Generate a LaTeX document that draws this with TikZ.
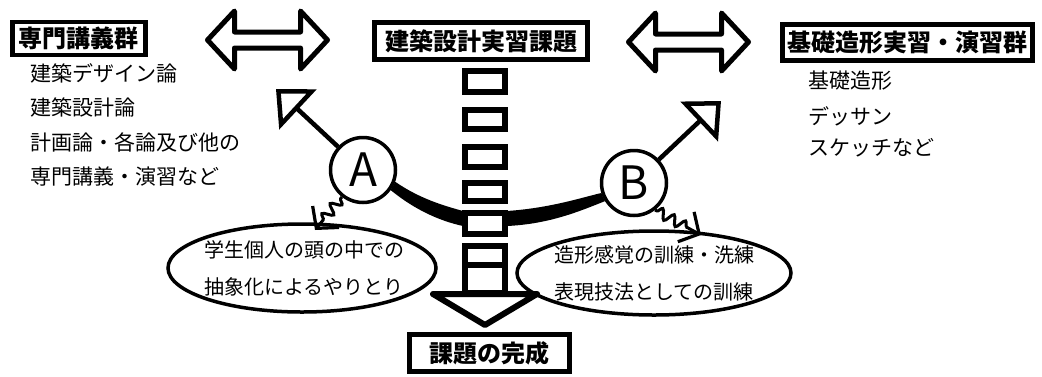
\documentclass[tikz,border=0pt]{standalone}
\usepackage{fontspec}
\setmainfont{Noto Sans CJK JP}
\usetikzlibrary{arrows.meta,shapes.geometric,decorations.pathmorphing}
\tikzset{
  titlebox/.style={draw, line width=4.5pt, inner xsep=2pt, inner ysep=2pt, font=\fontsize{24}{26}\selectfont\bfseries},
  listtext/.style={anchor=west, inner sep=0pt, font=\fontsize{21}{24}\selectfont},
  bubble/.style={draw, ellipse, line width=3.5pt, inner sep=0pt},
  bubbletext/.style={inner sep=0pt, align=center, font=\fontsize{20}{37}\selectfont},
  letter/.style={draw, circle, line width=3.5pt, minimum size=65pt, inner sep=0pt, font=\fontsize{46}{46}\selectfont},
  ladderbox/.style={draw, line width=6pt, fill=white, line join=miter},
  dblarr/.pic={\draw[line width=5pt, line join=round] (-60,0) -- (-33,-29) -- (-33,-8) -- (33,-8) -- (33,-29) -- (60,0) -- (33,29) -- (33,8) -- (-33,8) -- (-33,29) -- cycle;},
  openarrow/.style={line width=4.5pt, -{Triangle[open, length=30pt, width=54pt, line width=4.5pt]}},
  wavy/.style={line width=3pt, decorate, decoration={snake, amplitude=5pt, segment length=13pt, pre length=2pt, post length=10pt}, -{Straight Barb[length=15pt, width=34pt, line width=3.2pt]}},
  taper/.style={fill=black}
}
\begin{document}
\begin{tikzpicture}[x=1pt, y=-1pt]
\useasboundingbox (0,0) rectangle (1042,376);
\fill[white] (0,0) rectangle (1042,376);

% title boxes
\node[titlebox, minimum width=133pt, minimum height=33pt] (b1) at (79,38.5) {専門講義群};
\node[titlebox, minimum width=213pt, minimum height=37pt] (b2) at (481,41) {建築設計実習課題};
\node[titlebox, minimum width=250pt, minimum height=36pt] (b3) at (907.5,42.5) {基礎造形実習・演習群};
\node[titlebox, minimum width=160pt, minimum height=37pt] (b4) at (489.5,353) {課題の完成};

% lists
\node[listtext] (l1) at (30,73) {建築デザイン論};
\node[listtext] (l2) at (30,107) {建築設計論};
\node[listtext] (l3) at (30,142) {計画論・各論及び他の};
\node[listtext] (l4) at (30,177) {専門講義・演習など};
\node[listtext] (r1) at (808,81) {基礎造形};
\node[listtext] (r2) at (808,116) {デッサン};
\node[listtext] (r3) at (808,148) {スケッチなど};

% double arrows
\pic at (267.5,40) {dblarr};
\pic at (688.5,42) {dblarr};

% circles
\node[letter] (A) at (363,170) {A};
\node[letter] (B) at (634,183) {B};

% bubbles
\node[bubble, minimum width=268pt, minimum height=88pt] (e1) at (302,268) {};
\node[bubbletext] (t1) at ([xshift=2pt]e1.center) {学生個人の頭の中での\\抽象化によるやりとり};
\node[bubble, minimum width=274pt, minimum height=84pt] (e2) at (654,273) {};
\node[bubbletext] (t2) at (e2.center) {造形感覚の訓練・洗練\\表現技法としての訓練};

% arrows from circles
\coordinate (at) at (276,89);
\coordinate (bt) at (721,101);
\draw[openarrow] (A) -- (at);
\draw[openarrow] (B) -- (bt);
\coordinate (wa) at (315,230);
\coordinate (wb) at (701,235);
\draw[wavy] (A.232) -- (wa);
\draw[wavy] (B.-52) -- (wb);

% thick tapered line through ladder
\coordinate (ml) at (463,211);
\coordinate (mr) at (507,211);
\fill[taper] (A.-20) .. controls (420,199) and (445,206) .. (ml) -- (mr)
  .. controls (550,208) and (580,198) .. (B.197) -- (B.212)
  .. controls (580,211) and (550,224) .. (507,226) -- (463,226)
  .. controls (440,221) and (415,210) .. (A.-36) -- cycle;

% ladder
\draw[ladderbox] (465,71) rectangle (505,92);
\draw[ladderbox] (465,110) rectangle (505,129);
\draw[ladderbox] (465,147) rectangle (505,167);
\draw[ladderbox] (465,183) rectangle (505,201);
\draw[ladderbox] (465,213) rectangle (505,234);
\draw[ladderbox] (465,246) rectangle (505,265);
\draw[ladderbox] (465,265) rectangle (505,293);
\draw[ladderbox, line join=round] (433,294) -- (537,294) -- (485,325) -- cycle;
\end{tikzpicture}
\end{document}
